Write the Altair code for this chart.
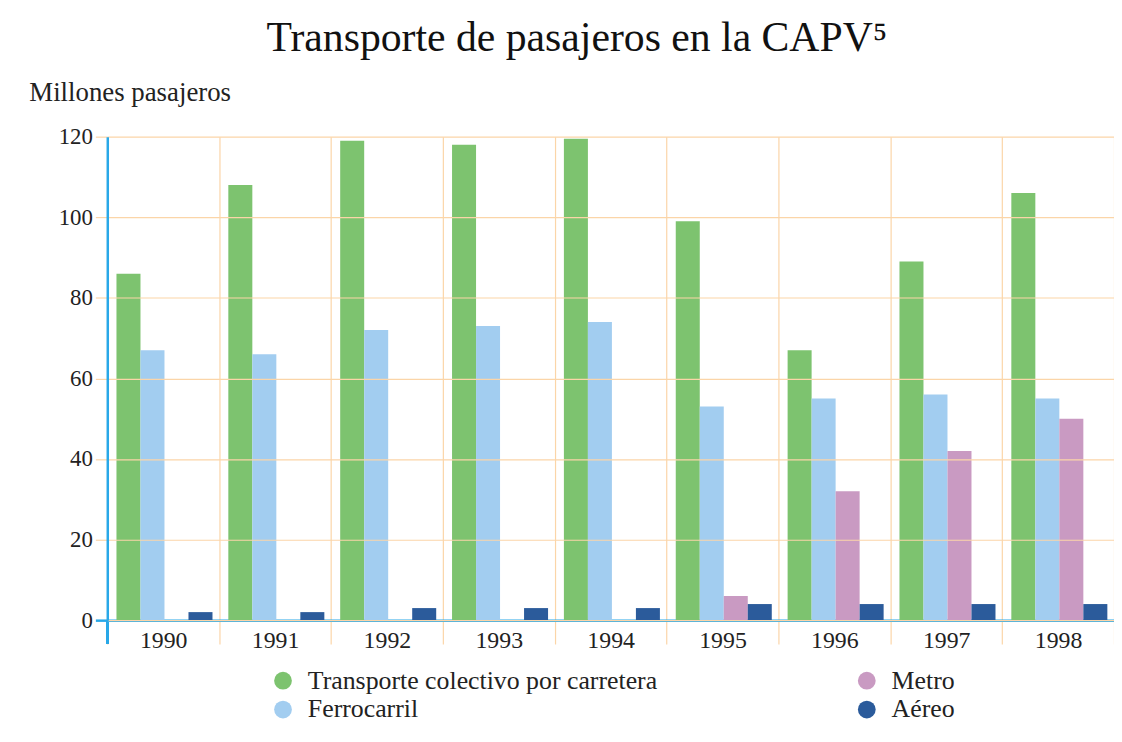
import altair as alt
import pandas as pd

years = ["1990", "1991", "1992", "1993", "1994", "1995", "1996", "1997", "1998"]
series = ["Transporte colectivo por carretera", "Ferrocarril", "Metro", "Aéreo"]
carretera = [86, 108, 119, 118, 119.5, 99, 67, 89, 106]
ferrocarril = [67, 66, 72, 73, 74, 53, 55, 56, 55]
metro = [None, None, None, None, None, 6, 32, 42, 50]
aereo = [2, 2, 3, 3, 3, 4, 4, 4, 4]

colors = ["#7DC36F", "#A2CDF0", "#C99AC2", "#2B5B9B"]
# legend fills column by column: col 1 = carretera, ferrocarril; col 2 = metro, aéreo
legend_values = ["Transporte colectivo por carretera", "Ferrocarril", "Metro", "Aéreo"]

rows = []
for name, vals in zip(series, [carretera, ferrocarril, metro, aereo]):
    for y, v in zip(years, vals):
        if v is not None:
            rows.append({"Año": y, "Serie": name, "Valor": v})
df = pd.DataFrame(rows)

SERIF = "Liberation Serif"
BLUE = "#29A8E8"
ORANGE = "#FBD5A8"

base = alt.Chart(df)

bars = base.mark_bar().encode(
    x=alt.X(
        "Año:N",
        sort=years,
        scale=alt.Scale(paddingInner=0, paddingOuter=0),
        axis=alt.Axis(
            title=None,
            tickBand="extent",
            grid=True,
            gridColor=ORANGE,
            gridWidth=1.2,
            tickColor=ORANGE,
            tickWidth=1.2,
            tickSize=24,
            labelPadding=-15,
            domainColor=BLUE,
            domainWidth=2.5,
            labelFont=SERIF,
            labelFontSize=24,
            labelColor="#222222",
            labelAngle=0,
        ),
    ),
    xOffset=alt.XOffset(
        "Serie:N",
        sort=series,
        scale=alt.Scale(paddingInner=0, paddingOuter=0.33, align=0.58),
    ),
    y=alt.Y(
        "Valor:Q",
        scale=alt.Scale(domain=[0, 120]),
        axis=alt.Axis(
            values=[0, 20, 40, 60, 80, 100, 120],
            title="Millones pasajeros",
            titleAngle=0,
            titleX=-79,
            titleY=-44,
            titleAlign="left",
            titleBaseline="middle",
            titleFont=SERIF,
            titleFontSize=27,
            titleFontWeight="normal",
            titleColor="#222222",
            tickColor=alt.condition("datum.value == 0", alt.value(BLUE), alt.value(ORANGE)),
            tickWidth=alt.condition("datum.value == 0", alt.value(2.5), alt.value(1.2)),
            tickSize=12,
            gridColor=ORANGE,
            gridWidth=1.2,
            domainColor=BLUE,
            domainWidth=2.5,
            labelFont=SERIF,
            labelFontSize=23,
            labelColor="#222222",
            labelPadding=3,
            zindex=1,
        ),
    ),
    color=alt.Color(
        "Serie:N",
        scale=alt.Scale(domain=series, range=colors),
        legend=alt.Legend(
            title=None,
            values=legend_values,
            orient="none",
            legendX=164,
            legendY=535,
            columns=2,
            symbolType="circle",
            symbolSize=320,
            symbolStrokeWidth=0,
            symbolOpacity=1,
            labelFont=SERIF,
            labelFontSize=26,
            labelColor="#222222",
            labelOffset=12,
            labelLimit=0,
            rowPadding=3,
            columnPadding=197,
        ),
    ),
)

# extension of the vertical axis line below zero
axis_ext = base.mark_rule(color=BLUE, strokeWidth=2.5).encode(
    x=alt.value(0), y=alt.value(487), y2=alt.value(511)
)

chart = alt.layer(bars, axis_ext).properties(
    width=1014,
    height=487,
    autosize=alt.AutoSizeParams(type="none"),
    padding={"left": 100, "top": 127, "right": 0, "bottom": 104},
    title=alt.Title(
        "Transporte de pasajeros en la CAPV⁵",
        font=SERIF,
        fontSize=42,
        fontWeight="normal",
        color="#111111",
        anchor="middle",
        dx=-34,
        offset=19,
    ),
).configure_view(stroke=None)

chart.save("out.html", embed_options={"renderer": "svg", "actions": False})
